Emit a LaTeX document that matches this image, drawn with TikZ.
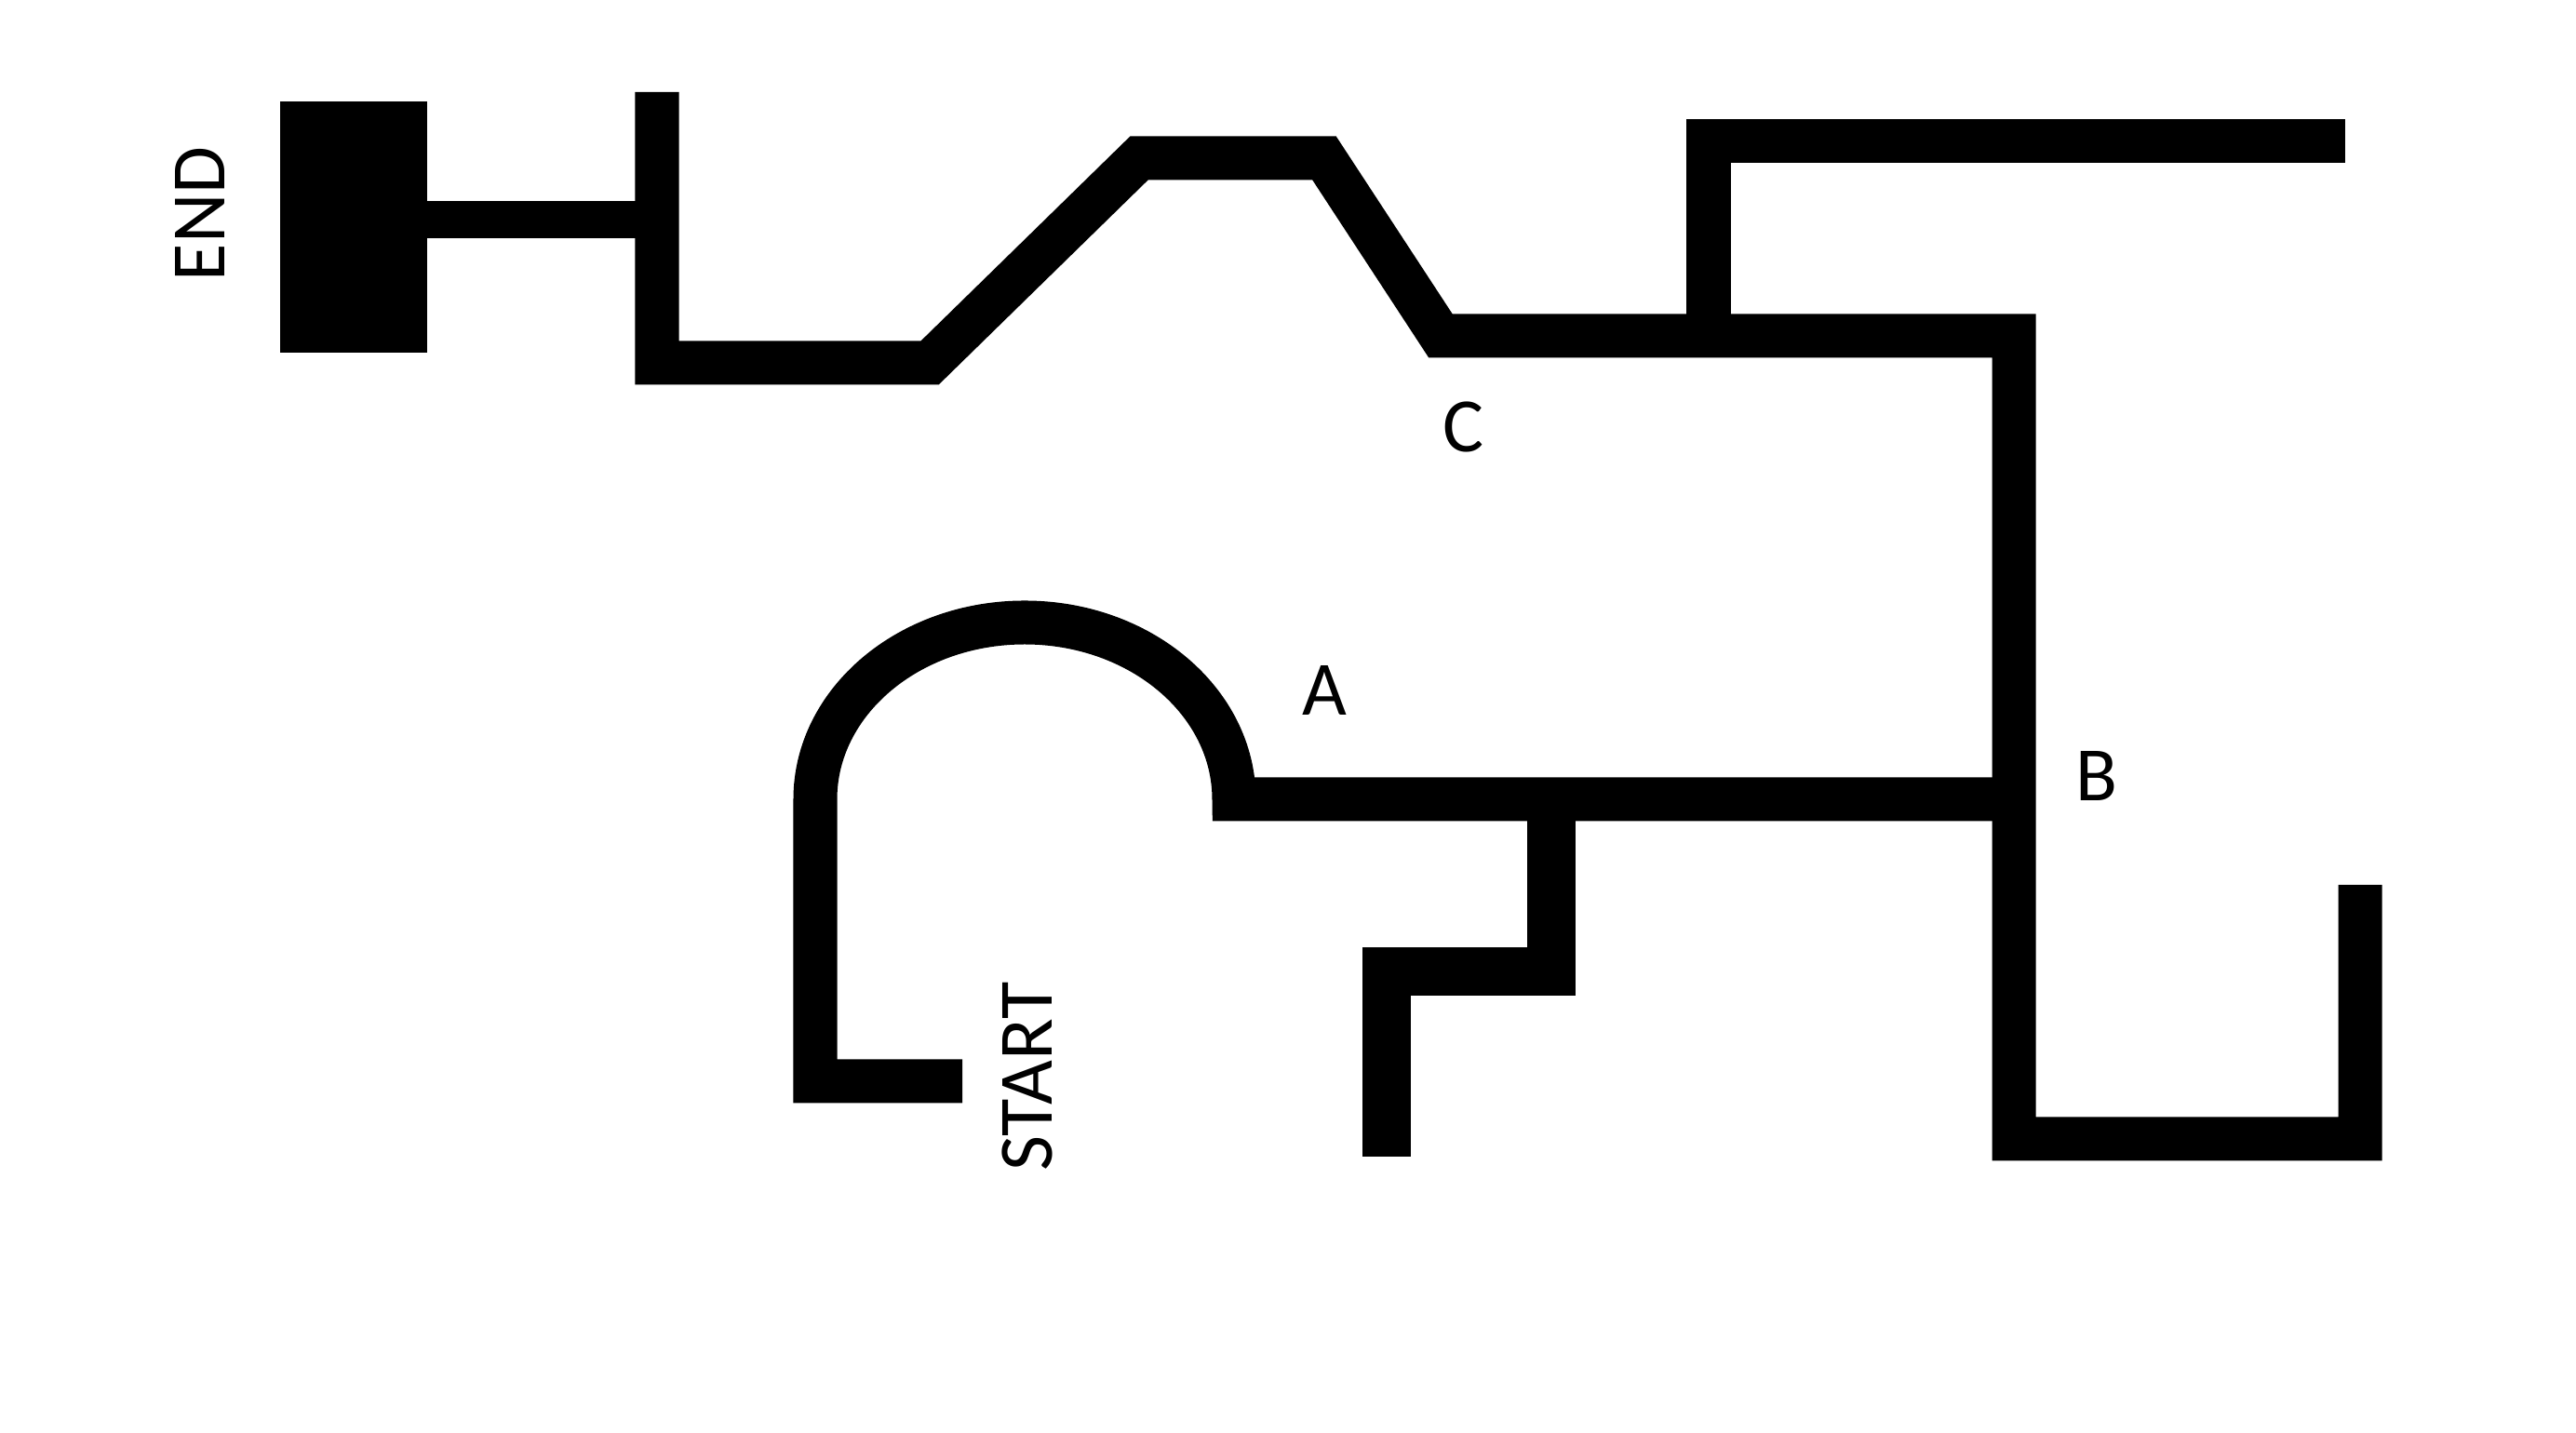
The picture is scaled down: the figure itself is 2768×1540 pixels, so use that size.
\documentclass[tikz,border=0pt]{standalone}
\usepackage{fontspec}
\setmainfont{Carlito}

\begin{document}
\begin{tikzpicture}[
  x=0.01cm, y=0.01cm,
  track/.style={draw=black, line width=0.47cm, miter limit=10},
  thintrack/.style={draw=black, line width=0.40cm},
  widetrack/.style={draw=black, line width=0.52cm},
  lbl/.style={inner sep=0pt, font=\fontsize{23.5}{28}\selectfont}
]
  % Sheet
  \fill[white] (0,0) rectangle (2768,1540);

  % End block and its stub
  \fill[black] (301,1161) rectangle (459,1431);
  \draw[thintrack] (440,1304) -- (706,1304);

  % Main line: L, up-slope, plateau, down-slope, over to B and the U at the right
  \draw[track] (706,1441) -- (706,1150) -- (999,1150) -- (1224,1370) -- (1423,1370)
    -- (1548,1179) -- (2164,1179) -- (2164,316) -- (2536,316) -- (2536,589);

  % Branch up to the top bar
  \draw[track] (1836,1179) -- (1836,1388) -- (2520,1388);

  % Start loop: arch and the long bar to B
  \draw[track] (1034,378) -- (876,378) -- (876,681)
    arc[start angle=180, end angle=0, x radius=225, y radius=190] -- (2164,681);

  % Step going down from the long bar
  \draw[widetrack] (1667,681) -- (1667,496) -- (1490,496) -- (1490,297);

  % Labels
  \node[lbl, rotate=90] (lend) at (215,1310) {END};
  \node[lbl, rotate=90] (lstart) at (1104,383) {START};
  \node[lbl] (la) at (1423,798) {A};
  \node[lbl] (lb) at (2253,706) {B};
  \node[lbl] (lc) at (1573,1081) {C};
\end{tikzpicture}
\end{document}
